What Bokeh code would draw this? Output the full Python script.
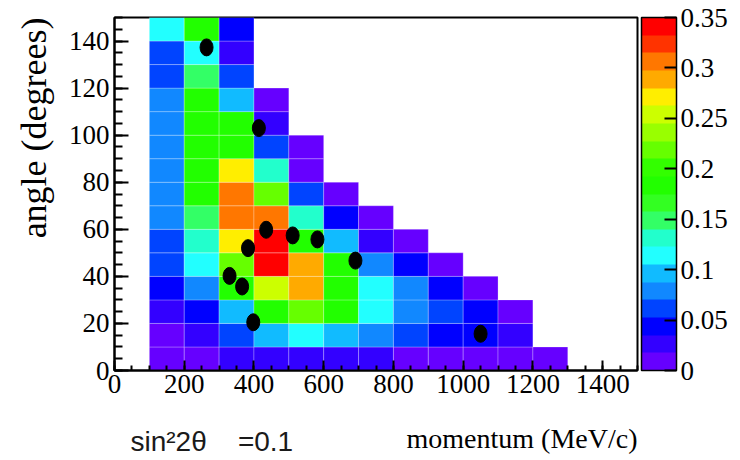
from bokeh.plotting import figure
from bokeh.models import (LinearColorMapper, ColorBar, Range1d, SingleIntervalTicker,
                          FixedTicker, Title, Label, ColumnDataSource, CustomJSTickFormatter)
from bokeh.embed import file_html
from bokeh.resources import INLINE

# ---------------- data ----------------
bin_width_momentum = 100      # MeV/c
bin_width_angle = 10          # degrees
angle_low_edges = [0, 10, 20, 30, 40, 50, 60, 70, 80, 90, 100, 110, 120, 130, 140]

# bin contents for each momentum bin (low edge in MeV/c), listed from 0-10 deg upward
content_100 = [0.010, 0.012, 0.025, 0.043, 0.060, 0.060, 0.078, 0.078, 0.078, 0.078, 0.078, 0.078, 0.060, 0.060, 0.113]
content_200 = [0.012, 0.025, 0.043, 0.078, 0.113, 0.130, 0.148, 0.183, 0.183, 0.183, 0.183, 0.183, 0.148, 0.113, 0.183]
content_300 = [0.025, 0.060, 0.095, 0.183, 0.218, 0.270, 0.305, 0.305, 0.270, 0.183, 0.183, 0.095, 0.060, 0.025, 0.043]
content_400 = [0.025, 0.095, 0.183, 0.253, 0.340, 0.340, 0.305, 0.218, 0.130, 0.060, 0.025, 0.010]
content_500 = [0.025, 0.113, 0.218, 0.288, 0.288, 0.183, 0.130, 0.060, 0.010, 0.010]
content_600 = [0.025, 0.095, 0.183, 0.183, 0.183, 0.095, 0.043, 0.010]
content_700 = [0.025, 0.078, 0.113, 0.113, 0.078, 0.025, 0.010]
content_800 = [0.010, 0.060, 0.078, 0.078, 0.043, 0.010]
content_900 = [0.010, 0.043, 0.060, 0.043, 0.010]
content_1000 = [0.010, 0.043, 0.043, 0.010]
content_1100 = [0.010, 0.025, 0.010]
content_1200 = [0.010]

momentum_low_edges = [100, 200, 300, 400, 500, 600, 700, 800, 900, 1000, 1100, 1200]
contents = [content_100, content_200, content_300, content_400, content_500, content_600,
            content_700, content_800, content_900, content_1000, content_1100, content_1200]

# observed events (black dots)
event_momentum = [264, 414, 435, 511, 582, 383, 691, 330, 366, 398, 1050]
event_angle = [137.3, 103.0, 59.8, 57.4, 55.7, 52.0, 46.7, 40.2, 35.7, 20.5, 15.6]

# colour scale
palette = ["#6600ff", "#3300ff", "#0000ff", "#0044ff", "#1188ff", "#11bbff", "#22ffff",
           "#22ffcc", "#33ff66", "#33ff22", "#22ff00", "#33ff00", "#66ff00", "#99ff00",
           "#ccff00", "#ffee00", "#ffaa00", "#ff7700", "#ff3300", "#ff0000"]
z_min, z_max = 0.0, 0.35
cbar_ticks = [0, 0.05, 0.1, 0.15, 0.2, 0.25, 0.3, 0.35]

x_ticks_interval = 200
y_ticks_interval = 20

x_title = "momentum (MeV/c)"
y_title = "angle (degrees)"
note_text = "sin²2θ\u00a0\u00a0\u00a0\u00a0=0.1"

# ---------------- build ----------------
left, right, bottom, top, val = [], [], [], [], []
for m, col in zip(momentum_low_edges, contents):
    for a, z in zip(angle_low_edges, col):
        left.append(m)
        right.append(m + bin_width_momentum)
        bottom.append(a)
        top.append(a + bin_width_angle)
        val.append(z)
cells = ColumnDataSource(dict(left=left, right=right, bottom=bottom, top=top, z=val))
events = ColumnDataSource(dict(x=event_momentum, y=event_angle))

SERIF = "Liberation Serif"

p = figure(width=740, height=460, output_backend="svg", toolbar_location=None,
           x_range=Range1d(0, 1500), y_range=Range1d(0, 150))
p.min_border_left = 114
p.min_border_right = 103
p.min_border_top = 17
p.min_border_bottom = 90
p.background_fill_color = "white"
p.border_fill_color = "white"
p.grid.visible = False
p.outline_line_color = "black"
p.outline_line_width = 2
p.outline_line_alpha = 1

mapper = LinearColorMapper(palette=palette, low=z_min, high=z_max)
p.quad(left="left", right="right", bottom="bottom", top="top", source=cells,
       fill_color={"field": "z", "transform": mapper},
       line_color="white", line_alpha=0.25, line_width=1)

p.ellipse(x="x", y="y", width=13, height=17, width_units="screen", height_units="screen",
          source=events, fill_color="black", line_color="black")

# axes
p.xaxis.ticker = SingleIntervalTicker(interval=x_ticks_interval, num_minor_ticks=4)
p.yaxis.ticker = SingleIntervalTicker(interval=y_ticks_interval, num_minor_ticks=4)
for ax in (p.xaxis[0], p.yaxis[0]):
    ax.axis_line_width = 2
    ax.axis_line_color = "black"
    ax.major_tick_line_color = "black"
    ax.minor_tick_line_color = "black"
    ax.major_tick_line_width = 2
    ax.minor_tick_line_width = 2
    ax.major_tick_out = 0
    ax.minor_tick_out = 0
    ax.major_label_text_font = SERIF
    ax.major_label_text_font_size = "27px"
    ax.major_label_text_color = "black"
p.xaxis.major_tick_in = 10
p.xaxis.minor_tick_in = 5
p.yaxis.major_tick_in = 14
p.yaxis.minor_tick_in = 8
p.xaxis.major_label_standoff = 4
p.yaxis.major_label_standoff = 5

# colour bar
cb = ColorBar(color_mapper=mapper, width=35, height=353, padding=0, margin=0, location=(4, 0),
              ticker=FixedTicker(ticks=cbar_ticks),
              formatter=CustomJSTickFormatter(code="return String(Math.round(tick*100)/100)"),
              major_label_text_font=SERIF, major_label_text_font_size="27px",
              major_label_text_color="black",
              major_tick_in=12, major_tick_out=0, major_tick_line_color="black",
              major_tick_line_width=2, minor_tick_line_color=None,
              bar_line_color="black", bar_line_width=1.5, label_standoff=4,
              background_fill_color=None, border_line_color=None)
p.add_layout(cb, "right")

# titles (ROOT style: aligned to the axis end)
p.add_layout(Title(text=y_title, align="right", text_font=SERIF, text_font_size="36px",
                   text_font_style="normal", text_color="black", standoff=23), "left")
p.add_layout(Label(x=1500, y=-29.0, text=x_title, text_align="right",
                   text_baseline="alphabetic", text_font=SERIF, text_font_size="28px",
                   text_color="black"), "below")
p.add_layout(Label(x=45.9, y=-30.3, text=note_text, text_align="left",
                   text_baseline="alphabetic", text_font="Liberation Sans",
                   text_font_size="28px", text_color="#1a1a1a"), "below")

open("out.html", "w").write(file_html(p, INLINE))
